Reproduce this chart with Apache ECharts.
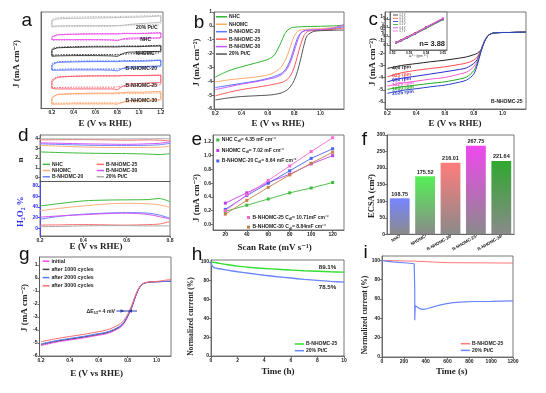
<!DOCTYPE html>
<html><head><meta charset="utf-8">
<script src="https://cdn.jsdelivr.net/npm/echarts@6/dist/echarts.min.js"></script>
<style>html,body{margin:0;padding:0;background:#fff}#c{width:546px;height:393px}</style>
</head><body><div id="c"></div>
<script>
// ===================== DATA =====================
// (a) CV curves (y axis has no scale: arbitrary stacked units)
const cvX = [0.2,0.25,0.4,0.6,0.75,0.8,0.85,0.9,1.0,1.1,1.2];
const cvNames = ['20% Pt/C','NHC','NHOMC','B-NHOMC-20','B-NHOMC-25','B-NHOMC-30'];
const cvUpperSolid = [
  [90.7,92.8,93.4,93.8,94.1,94.1,94.3,94.5,94.8,95.2,95.9],
  [73.4,76.2,76.9,77.2,77.2,77.2,77.6,77.6,77.6,77.9,78.3],
  [60.3,62.8,63.4,63.8,63.8,63.8,64.1,64.1,64.1,64.5,64.8],
  [44.8,47.6,48.3,48.6,48.6,48.6,49.0,49.0,49.0,49.3,50.0],
  [27.6,32.1,33.4,33.8,33.8,33.8,34.1,34.1,34.1,34.1,34.5],
  [10.3,14.5,15.5,15.9,15.9,16.2,16.6,16.9,16.9,17.2,17.6]];
const cvLowerSolid = [
  [85.2,85.5,85.9,85.9,85.9,85.9,86.2,86.9,87.9,88.6,89.7],
  [71.4,71.4,71.4,71.4,71.0,70.3,72.1,72.8,73.1,73.1,73.4],
  [54.1,54.5,54.8,54.8,54.5,54.1,56.9,58.3,58.6,59.0,59.3],
  [39.7,39.7,40.0,40.0,39.7,39.0,41.4,43.1,43.4,43.8,44.5],
  [20.7,20.3,20.3,20.3,20.3,19.7,23.1,25.2,25.9,26.6,27.2],
  [4.5,4.5,4.8,4.8,4.8,4.5,6.6,7.9,8.6,9.0,9.7]];
const cvUpperDash = [
  [92.1,94.1,94.8,95.2,95.2,95.2,95.5,95.5,95.9,96.2,96.6],
  [74.1,76.6,77.2,77.6,77.6,77.6,77.9,77.9,77.9,78.3,78.6],
  [61.7,63.4,64.1,64.5,64.5,64.5,64.8,64.8,64.8,65.2,65.5],
  [46.2,48.3,49.0,49.3,49.3,49.3,49.7,49.7,49.7,50.0,50.3],
  [29.3,32.8,33.4,33.8,33.8,33.8,34.1,34.1,34.1,34.5,34.8],
  [11.4,14.1,14.8,15.2,15.2,15.2,15.5,15.5,15.5,15.9,16.2]];
const cvLowerDash = [
  [84.5,84.8,84.8,84.8,85.2,85.5,85.9,86.2,86.6,86.9,87.9],
  [70.7,71.0,71.0,71.0,71.0,71.0,71.4,71.7,72.1,72.4,73.4],
  [55.2,55.5,55.9,55.9,55.9,55.9,56.2,56.6,56.9,57.2,58.3],
  [40.3,40.7,41.0,41.0,41.0,41.0,41.4,41.7,42.1,42.4,43.8],
  [21.7,21.7,22.1,22.1,22.1,22.4,22.8,23.1,23.4,23.8,25.2],
  [5.5,5.5,5.9,5.9,5.9,5.9,6.2,6.6,6.9,7.2,8.6]];

// (b) LSV
const lsvX = [0.2,0.3,0.4,0.5,0.6,0.65,0.7,0.725,0.75,0.775,0.8,0.825,0.85,0.875,0.9,0.95,1.0,1.1,1.18];
const lsvNames = ['NHC','NHOMC','B-NHOMC-20','B-NHOMC-25','B-NHOMC-30','20% Pt/C'];
const lsvNHC   = [-3.7,-3.25,-2.95,-2.7,-2.42,-2.1,-1.2,-0.65,-0.32,-0.15,-0.1,-0.08,-0.07,-0.06,-0.05,-0.04,-0.03,0.0,0.05];
const lsvNHOMC = [-4.05,-3.9,-3.8,-3.7,-3.55,-3.35,-3.0,-2.6,-2.1,-1.4,-0.75,-0.4,-0.3,-0.26,-0.24,-0.22,-0.2,-0.12,0.0];
const lsvB20   = [-4.45,-4.3,-4.15,-4.0,-3.8,-3.65,-3.45,-3.25,-2.9,-2.35,-1.6,-0.9,-0.5,-0.36,-0.31,-0.29,-0.28,-0.2,-0.05];
const lsvB25   = [-5.05,-4.8,-4.6,-4.45,-4.3,-4.2,-4.1,-4.0,-3.85,-3.55,-3.0,-2.2,-1.35,-0.7,-0.42,-0.33,-0.3,-0.25,-0.15];
const lsvB30   = [-4.6,-4.4,-4.2,-4.05,-3.85,-3.75,-3.55,-3.35,-3.05,-2.55,-1.85,-1.1,-0.55,-0.38,-0.32,-0.3,-0.28,-0.15,0.1];
const lsvPt    = [-5.35,-5.2,-5.1,-5.05,-5.0,-4.95,-4.85,-4.75,-4.6,-4.35,-3.95,-3.3,-2.4,-1.4,-0.7,-0.4,-0.35,-0.32,-0.3];

// (c) rotating speeds, B-NHOMC-25
const rdeX = [0.2,0.3,0.4,0.5,0.6,0.7,0.75,0.8,0.825,0.85,0.875,0.9,0.925,0.95,1.0,1.05,1.1,1.163];
const rpmLabels = ['400 rpm','625 rpm','900 rpm','1225 rpm','1600 rpm','2025 rpm'];
const rpm400  = [-3.25,-3.0,-2.85,-2.7,-2.57,-2.4,-2.3,-2.12,-2.0,-1.72,-1.0,-0.55,-0.38,-0.33,-0.3,-0.3,-0.28,-0.27];
const rpm625  = [-3.93,-3.6,-3.4,-3.25,-3.11,-2.92,-2.8,-2.57,-2.3,-1.75,-1.0,-0.55,-0.38,-0.33,-0.3,-0.3,-0.28,-0.27];
const rpm900  = [-4.34,-4.05,-3.88,-3.7,-3.52,-3.33,-3.2,-2.84,-2.5,-1.77,-1.0,-0.55,-0.38,-0.33,-0.3,-0.3,-0.28,-0.27];
const rpm1225 = [-4.7,-4.45,-4.29,-4.12,-3.99,-3.71,-3.55,-3.11,-2.65,-1.8,-1.0,-0.55,-0.38,-0.33,-0.3,-0.3,-0.28,-0.27];
const rpm1600 = [-4.97,-4.75,-4.61,-4.47,-4.34,-4.12,-3.95,-3.44,-2.8,-1.85,-1.02,-0.55,-0.38,-0.33,-0.3,-0.3,-0.28,-0.27];
const rpm2025 = [-5.29,-5.05,-4.91,-4.75,-4.61,-4.37,-4.2,-3.71,-2.95,-1.9,-1.05,-0.56,-0.38,-0.33,-0.3,-0.3,-0.28,-0.27];
const sampleLabelC = 'B-NHOMC-25';
// (c inset) K-L plots
const klX = [0.0222,0.025,0.0286,0.0333,0.04,0.05];
const klNames = ['0.2 V','0.3 V','0.4 V','0.5 V','0.6 V','0.7 V'];
const kl1 = [0.13,0.155,0.19,0.235,0.305,0.405];
const kl2 = [0.125,0.15,0.185,0.23,0.3,0.4];
const kl3 = [0.12,0.145,0.18,0.225,0.295,0.395];
const kl4 = [0.118,0.143,0.177,0.222,0.29,0.39];
const kl5 = [0.122,0.148,0.182,0.228,0.298,0.4];
const kl6 = [0.127,0.152,0.187,0.232,0.303,0.41];
const nText = 'n= 3.88';

// (d) RRDE
const rrdeX = [0.2,0.3,0.4,0.5,0.6,0.7,0.75,0.8];
const nNHC   = [2.62,2.55,2.5,2.47,2.45,2.4,2.35,2.45];
const nNHOMC = [3.3,3.2,3.12,3.08,3.07,3.08,3.1,3.2];
const nB20   = [3.45,3.38,3.32,3.28,3.28,3.3,3.35,3.5];
const nB25   = [3.85,3.87,3.88,3.85,3.82,3.85,3.82,3.75];
const nB30   = [3.55,3.5,3.45,3.42,3.4,3.45,3.5,3.65];
const nPt    = [3.95,3.95,3.94,3.94,3.95,3.96,3.97,3.98];
const hpNHC   = [42,47,51.5,53,53.5,54,56,50];
const hpNHOMC = [33,38,42,45.5,47,46,44,39.5];
const hpB20   = [17,23,26.5,28.5,29.5,28.5,25,19];
const hpB25   = [6,6.5,7,6.5,6,7,8,12.5];
const hpB30   = [21,23.5,25.5,27.5,28.5,26,22,17.5];
const hpPt    = [3,3.5,4.5,5,5,4.5,4.5,4.5];

// (e) Cdl
const scanRates = [20,40,60,80,100,120];
const jNHC   = [0.19,0.28,0.37,0.46,0.53,0.61];
const jNHOMC = [0.31,0.46,0.61,0.73,0.88,1.0];
const jB20   = [0.22,0.42,0.6,0.78,0.96,1.1];
const jB25   = [0.2,0.43,0.64,0.85,1.06,1.26];
const jB30   = [0.15,0.35,0.54,0.72,0.89,1.05];
const cdlText = ['4.35 mF cm⁻²','7.02 mF cm⁻²','8.64 mF cm⁻²','10.71mF cm⁻²','8.84mF cm⁻²'];

// (f) ECSA
const ecsaCats = ['NHC','NHOMC','B-NHOMC-20','B-NHOMC-25','B-NHOMC-30'];
const ecsaVals = [108.75,175.52,216.01,267.75,221.64];

// (g) durability
const durX = [0.2,0.3,0.4,0.5,0.6,0.65,0.7,0.75,0.775,0.8,0.825,0.85,0.875,0.9,0.925,0.95,1.0,1.05,1.1];
const durNames = ['initial','after 1000 cycles','after 2000 cycles','after 3000 cycles'];
const durInit = [-5.2,-4.95,-4.77,-4.6,-4.4,-4.3,-4.1,-3.8,-3.5,-3.0,-2.4,-1.6,-0.9,-0.5,-0.38,-0.33,-0.3,-0.28,-0.26];
const dur1000 = [-5.12,-4.88,-4.7,-4.53,-4.33,-4.23,-4.03,-3.72,-3.43,-2.95,-2.35,-1.55,-0.88,-0.5,-0.38,-0.33,-0.3,-0.28,-0.26];
const dur2000 = [-5.07,-4.83,-4.65,-4.48,-4.28,-4.18,-3.98,-3.68,-3.4,-2.92,-2.33,-1.53,-0.87,-0.5,-0.38,-0.33,-0.3,-0.28,-0.26];
const dur3000 = [-4.9,-4.68,-4.5,-4.33,-4.13,-4.02,-3.82,-3.52,-3.25,-2.8,-2.2,-1.45,-0.82,-0.47,-0.36,-0.31,-0.28,-0.2,-0.12];

// (h) chronoamperometry
const hTimeB25 = [0,0.5,1,2,3,4,5,6,7,8,9,10];
const hValB25  = [100,98.8,97.6,95.5,94.1,93.0,92.1,91.3,90.6,90.0,89.5,89.1];
const hTimePt  = [0,0.05,0.1,0.2,0.3,0.5,1,1.5,2,3,4,5,6,7,8,9,10];
const hValPt   = [100,97,95.5,94.2,93.6,93,91.8,90.6,89.5,87.6,85.8,84.2,82.8,81.4,80.3,79.3,78.5];
const hEndText = ['89.1%','78.5%'];

// (i) methanol tolerance
const iTimeB25 = [0,150,295,305,600,900,1200];
const iValB25  = [100,99.5,99.2,97.8,97.6,97.4,97.2];
const iTimePt  = [0,50,100,150,200,250,295,300,300,302,305,320,350,380,420,470,520,580,650,750,850,1000,1100,1200];
const iValPt   = [100,99,98.4,97.9,97.5,97,96.5,70,38,45,53,51,49.7,49.3,50.2,51.8,53.5,55,56.3,57,57.4,57.6,57.8,58];

// ===================== BUILD =====================
const SANS = '"Liberation Sans", Arial, sans-serif';
const SERIF = '"Liberation Serif", "DejaVu Serif", serif';
const AX = '#555';
const grids=[], xAxes=[], yAxes=[], series=[], legends=[], graphics=[];
const fmt = d => v => Number(v).toFixed(d);

function mkAxis(gi, o){
  const ax = {type:'value', gridIndex:gi, min:o.min, max:o.max,
    axisLine:{show:true, onZero:false, lineStyle:{color:o.color||AX, width:0.8}},
    axisTick:{show:o.ticks!==false, length:2, inside:false, lineStyle:{color:o.color||AX, width:0.8}},
    axisLabel:{show:o.labels!==false, margin:2, fontSize:o.fs||5, fontWeight:'bold', fontFamily:SANS,
      color:o.labelColor||'#1a1a1a', formatter:o.fmt, hideOverlap:false},
    splitLine:{show:false}};
  if(o.vals){ ax.axisTick.customValues=o.vals; ax.axisLabel.customValues=o.vals; }
  if(o.interval) ax.interval=o.interval;
  return ax;
}
function addGrid(r, xo, yo, bg){
  const gi=grids.length;
  grids.push({left:r[0], top:r[1], width:r[2], height:r[3], show:true, borderColor:AX, borderWidth:0.8,
    backgroundColor:bg||'transparent', containLabel:false, outerBoundsMode:'none'});
  xAxes.push(mkAxis(gi,xo)); yAxes.push(mkAxis(gi,yo));
  return gi;
}
function line(gi, name, data, color, o={}){
  series.push({type:'line', name, xAxisIndex:gi, yAxisIndex:gi, data,
    symbol:o.symbol||'none', symbolSize:o.symbolSize||0, showSymbol:!!o.symbol,
    smooth:o.smooth===undefined?0.3:o.smooth, lineStyle:{color, width:o.width||1, type:o.type||'solid'},
    itemStyle:{color}, silent:true, z:o.z||2, animation:false});
}
const zip = (xs, ys) => xs.map((x,i)=>[x, ys[i]]);
function legend(names, left, top, o={}){
  legends.push({show:true, data:names, left, top, orient:'vertical', padding:0, itemGap:o.gap===undefined?1.5:o.gap,
    itemWidth:o.iw||11, itemHeight:o.ih||1.5, icon:'rect', selectedMode:false,
    textStyle:{fontSize:o.fs||5, fontWeight:'bold', fontFamily:SANS, color:'#222', lineHeight:o.lh||6,
      padding:[0,0,0,o.tp===undefined?-3:o.tp], rich:o.rich},
    formatter: n => n.split('::')[1]});
}
function txt(x, y, text, o={}){
  graphics.push({type:'text', x, y, rotation:o.rot||0, silent:true, z:50,
    style:{text, fontSize:o.fs||5, fontWeight:o.fw||'bold', fontFamily:o.ff||SANS, fill:o.color||'#222',
      align:o.align||'center', verticalAlign:o.va||'middle', rich:o.rich}});
}

// ---------- (a)
{
  const gi = addGrid([41,12,122,96.5], {min:0.1,max:1.22,vals:[0.2,0.4,0.6,0.8,1.0,1.2],fmt:fmt(1)},
                     {min:0,max:100,labels:false,ticks:false});
  const cols = ['#b4b4b4','#ee44ee','#222222','#4466ff','#ff4d5e','#ff9a5a'];
  const loop = (up, low) => { const p=[[cvX[0],low[0]]]; cvX.forEach((x,i)=>p.push([x,up[i]]));
    for(let i=cvX.length-1;i>=0;i--) p.push([cvX[i],low[i]]); return p; };
  cvNames.forEach((n,k)=>{
    line(gi,'a::'+n, loop(cvUpperSolid[k],cvLowerSolid[k]), cols[k], {smooth:0.15, width:0.9});
    line(gi,'a::'+n+' N2', loop(cvUpperDash[k],cvLowerDash[k]), cols[k], {smooth:0.15, width:0.9, type:[1.5,1.2]});
  });
  const ly = [27.3,39.3,53.3,68.3,86,100.3], lx=[157.5,151,154.5,157,157,157];
  cvNames.forEach((n,k)=>txt(lx[k], ly[k], n, {align:'right', fs:5}));
}
// ---------- (b)
const bCols = ['#2fb52f','#ffab6b','#5a76ff','#ff5a5a','#c257ff','#555555'];
{
  const gi = addGrid([214,12,130,97], {min:0.19,max:1.18,vals:[0.2,0.4,0.6,0.8,1.0],fmt:fmt(1)},
                     {min:-6,max:1,interval:1,fmt:fmt(0)});
  [lsvNHC,lsvNHOMC,lsvB20,lsvB25,lsvB30,lsvPt].forEach((d,k)=>line(gi,'b::'+lsvNames[k], zip(lsvX,d), bCols[k], {width:1}));
  legend(lsvNames.map(n=>'b::'+n), 216, 13.8, {gap:1.45, iw:11});
}
// ---------- (c)
{
  const gi = addGrid([385,12,141,97], {min:0.184,max:1.163,vals:[0.2,0.4,0.6,0.8,1.0],fmt:fmt(1)},
                     {min:-6.57,max:1.38,vals:[-6,-5,-4,-3,-2,-1,0,1],fmt:fmt(0)});
  const cols = ['#222222','#ff4a4a','#2a2acc','#ff5ad0','#22a822','#2a40cc'];
  [rpm400,rpm625,rpm900,rpm1225,rpm1600,rpm2025].forEach((d,k)=>line(gi,'c::'+rpmLabels[k], zip(rdeX,d), cols[k], {width:1}));
  const ry=[68.5,76,80.3,85,89.2,93.6];
  rpmLabels.forEach((n,k)=>txt(392, ry[k], n, {align:'left', fs:5, color:cols[k], rot:0.1}));
  txt(522.5, 101.7, sampleLabelC, {align:'right', fs:5});
  // inset
  const gj = addGrid([390,12,57,38], {min:0.0186,max:0.0524,vals:[0.02,0.03,0.04,0.05],fmt:fmt(2),fs:3.2},
                     {min:0.04,max:0.48,vals:[0.1,0.2,0.3,0.4],fmt:fmt(1),fs:3.2}, '#fff');
  const kc = ['#222222','#ff4a4a','#2a2acc','#22a822','#cc33ff','#ff6ad5'];
  [kl1,kl2,kl3,kl4,kl5,kl6].forEach((d,k)=>line(gj,'k::'+klNames[k], zip(klX,d), kc[k], {smooth:0, width:0.8, symbol:'rect', symbolSize:1.6, z:5}));
  legends.push({show:true, data:klNames.map(n=>'k::'+n), left:393, top:13.5, orient:'vertical', padding:0, itemGap:0.2,
    itemWidth:5, itemHeight:0.8, icon:'rect', selectedMode:false,
    textStyle:{fontSize:2.6, color:'#444', lineHeight:3, padding:[0,0,0,-3.5], fontFamily:SANS}, formatter:n=>n.split('::')[1]});
  txt(445, 43.5, nText, {align:'right', fs:7.5});
  txt(418.5, 56.5, 'ω⁻⁰·⁵ (rpm⁻⁰·⁵)', {fs:3, fw:'normal'});
  txt(383.5, 31, 'J⁻¹ (mA⁻¹ cm²)', {fs:3, fw:'normal', rot:Math.PI/2});
}
// ---------- (d)
const dCols = ['#3cbb3c','#ffb07a','#6a86ff','#ff6d6d','#d450ff','#aaaaaa'];
const dNames = ['NHC','NHOMC','B-NHOMC-20','B-NHOMC-25','B-NHOMC-30','20% Pt/C'];
{
  const gt = addGrid([40,135,130,46.5], {min:0.2,max:0.8,labels:false,ticks:false},
                     {min:-0.4,max:4.35,vals:[0,1,2,3,4],fmt:fmt(0)});
  [nNHC,nNHOMC,nB20,nB25,nB30,nPt].forEach((d,k)=>line(gt,'d::'+dNames[k], zip(rrdeX,d), dCols[k], {width:1}));
  const gb = addGrid([40,181.5,130,54.5], {min:0.2,max:0.8,vals:[0.2,0.4,0.6,0.8],fmt:fmt(1)},
                     {min:-14.5,max:88,vals:[0,20,40,60,80],fmt:fmt(0),color:'#2b2bff',labelColor:'#2b2bff'});
  [hpNHC,hpNHOMC,hpB20,hpB25,hpB30,hpPt].forEach((d,k)=>line(gb,'h2::'+dNames[k], zip(rrdeX,d), dCols[k], {width:1}));
  legend(dNames.slice(0,3).map(n=>'d::'+n), 42.7, 161.6, {gap:0.7, iw:7.3, lh:5.5});
  legend(dNames.slice(3).map(n=>'d::'+n), 96.7, 161.6, {gap:0.7, iw:7.3, lh:5.5});
}
// ---------- (e)
{
  const gi = addGrid([213,135,131,95], {min:8.5,max:130.6,vals:[20,40,60,80,100,120],fmt:fmt(0)},
                     {min:-0.08,max:1.3,vals:[0,0.2,0.4,0.6,0.8,1.0,1.2],fmt:fmt(1)});
  const cols = ['#3cbb3c','#c040e8','#4a62f0','#ff66d4','#c98048'];
  const names = ['NHC','NHOMC','B-NHOMC-20','B-NHOMC-25','B-NHOMC-30'].map((n,k)=>'e::'+n+' C{s|dl}= '+cdlText[k]);
  [jNHC,jNHOMC,jB20,jB25,jB30].forEach((d,k)=>line(gi,names[k], zip(scanRates,d), cols[k], {smooth:0, width:0.9, symbol:'rect', symbolSize:3}));
  const rich = {s:{fontSize:3.5, fontWeight:'bold', verticalAlign:'bottom', lineHeight:7, fontFamily:SANS, color:'#222'}};
  legend(names.slice(0,3), 216.3, 136.5, {gap:3.5, iw:3, ih:3, lh:7, fs:5, rich, tp:-2.5});
  legend(names.slice(3), 247, 214, {gap:2.6, iw:3, ih:3, lh:7, fs:5, rich, tp:-2.5});
}
// ---------- (f)
{
  const gi = grids.length;
  grids.push({left:387, top:135, width:127, height:99.3, show:true, borderColor:AX, borderWidth:0.8, containLabel:false, outerBoundsMode:'none'});
  xAxes.push({type:'category', gridIndex:gi, data:ecsaCats,
    axisLine:{show:true, lineStyle:{color:AX,width:0.8}}, axisTick:{show:true, length:2, alignWithLabel:true, lineStyle:{color:AX,width:0.8}},
    axisLabel:{interval:0, rotate:30, fontSize:4.3, fontWeight:'bold', fontFamily:SANS, color:'#222', margin:2}});
  yAxes.push(mkAxis(gi,{min:0,max:300,interval:50,fmt:fmt(0)}));
  const tops = ['#7585ff','#55f055','#ff7c7c','#f048f0','#2fa82f'];
  series.push({type:'bar', xAxisIndex:gi, yAxisIndex:gi, barWidth:'78%', silent:true, animation:false,
    data: ecsaVals.map((v,i)=>({value:v, itemStyle:{color:new echarts.graphic.LinearGradient(0,0,0,1,[{offset:0,color:tops[i]},{offset:1,color:'#8a8a8a'}])}})),
    label:{show:true, position:'top', distance:1, formatter:p=>p.value.toFixed(2), fontSize:5.5, fontWeight:'bold', fontFamily:SANS, color:'#222'}});
}
// ---------- (g)
{
  const gi = addGrid([39.5,257,131.5,99], {min:0.19,max:1.1,vals:[0.2,0.4,0.6,0.8,1.0],fmt:fmt(1)},
                     {min:-6,max:1.6,vals:[-6,-5,-4,-3,-2,-1,0,1],fmt:fmt(0)});
  const cols = ['#ff44ff','#444444','#5577ff','#ff6b6b'];
  [durInit,dur1000,dur2000,dur3000].forEach((d,k)=>line(gi,'g::'+durNames[k], zip(durX,d), cols[k], {width:1}));
  legend(durNames.map(n=>'g::'+n), 42.7, 258, {gap:1.8, iw:6.7, lh:6.4, fs:5.3});
  txt(115, 311.2, '{t|ΔE}{s|1/2}{t|= 4 mV}', {align:'right', rich:{t:{fontSize:5.2, fontWeight:'bold', fontFamily:SANS, fill:'#222', color:'#222'}, s:{fontSize:3.2, fontWeight:'bold', verticalAlign:'bottom', lineHeight:7, fontFamily:SANS, color:'#222'}}});
  graphics.push({type:'line', silent:true, z:50, shape:{x1:116.5,y1:311,x2:137,y2:311}, style:{stroke:'#2b3aa8', lineWidth:1}});
  graphics.push({type:'polygon', silent:true, z:50, shape:{points:[[120.5,309.3],[124.5,311],[120.5,312.7]]}, style:{fill:'#2b3aa8'}});
  graphics.push({type:'polygon', silent:true, z:50, shape:{points:[[132,309.3],[128,311],[132,312.7]]}, style:{fill:'#2b3aa8'}});
}
// ---------- (h)
{
  const gi = addGrid([211,260,133,96], {min:0,max:10,interval:2,fmt:fmt(0)},
                     {min:0,max:102,vals:[0,20,40,60,80,100],fmt:fmt(0)});
  line(gi,'h::B-NHOMC-25', zip(hTimeB25,hValB25), '#33dd33', {width:1.4});
  line(gi,'h::20% Pt/C', zip(hTimePt,hValPt), '#6a86ff', {width:1.4, smooth:0.2});
  legend(['h::B-NHOMC-25','h::20% Pt/C'], 294.7, 341, {gap:0.7, iw:9.3, lh:6});
  txt(327.5, 267.7, hEndText[0], {fs:6.2});
  txt(327.5, 287.3, hEndText[1], {fs:6.2});
}
// ---------- (i)
{
  const gi = addGrid([382,256,131,101], {min:0,max:1200,interval:200,fmt:fmt(0)},
                     {min:0,max:104.5,vals:[0,20,40,60,80,100],fmt:fmt(0)});
  line(gi,'i::B-NHOMC-25', zip(iTimeB25,iValB25), '#ff7777', {width:1, smooth:0});
  line(gi,'i::20% Pt/C', zip(iTimePt,iValPt), '#6a86ff', {width:1.2, smooth:0});
  legend(['i::B-NHOMC-25','i::20% Pt/C'], 460.7, 340.7, {gap:0.7, iw:9.3, lh:6});
}

// ---------- axis titles & panel letters
const nameF = {ff:SERIF, fs:9};
[[105,123.3],[278,123.3],[455,123.3],[96,246.7],[96.7,373.3]].forEach(p=>txt(p[0],p[1],'E (V vs RHE)',nameF));
txt(274.7,247.3,'Scan Rate (mV s⁻¹)',nameF);
txt(278,371.7,'Time (h)',nameF);
txt(451.7,371.7,'Time (s)',nameF);
const R = -Math.PI/2*-1;
[[16.7,64],[196.3,62.5],[372.7,62],[196.3,198],[25,308]].forEach(p=>txt(p[0],p[1],'J (mA cm⁻²)',{ff:SERIF,fs:9,rot:Math.PI/2}));
txt(20.7,160,'n',{ff:SERIF,fs:9,rot:Math.PI/2});
txt(20.7,211.7,'H₂O₂ %',{ff:SERIF,fs:9,rot:Math.PI/2,color:'#2b2bff'});
txt(371.7,196,'ECSA (cm²)',{ff:SERIF,fs:8.5,rot:Math.PI/2});
txt(191.3,316.5,'Normalized current (%)',{ff:SERIF,fs:7.6,rot:Math.PI/2});
txt(365,315,'Normalized current (%)',{ff:SERIF,fs:7.6,rot:Math.PI/2});
const LF = {fs:19, fw:'normal', color:'#111', va:'bottom'};
[['a',26.7,30.5],['b',199,32.2],['c',373.3,29],['d',23.3,145.5],['e',196.7,149],['f',364.5,149],['g',24.3,264.5],['h',197,263.8],['i',365.5,261.8]]
  .forEach(l=>txt(l[1],l[2],l[0],LF));

const chart = echarts.init(document.getElementById('c'), null, {renderer:'canvas', width:546, height:393});
chart.setOption({animation:false, backgroundColor:'#fff', grid:grids, xAxis:xAxes, yAxis:yAxes, series, legend:legends, graphic:{elements:graphics}});
</script></body></html>
